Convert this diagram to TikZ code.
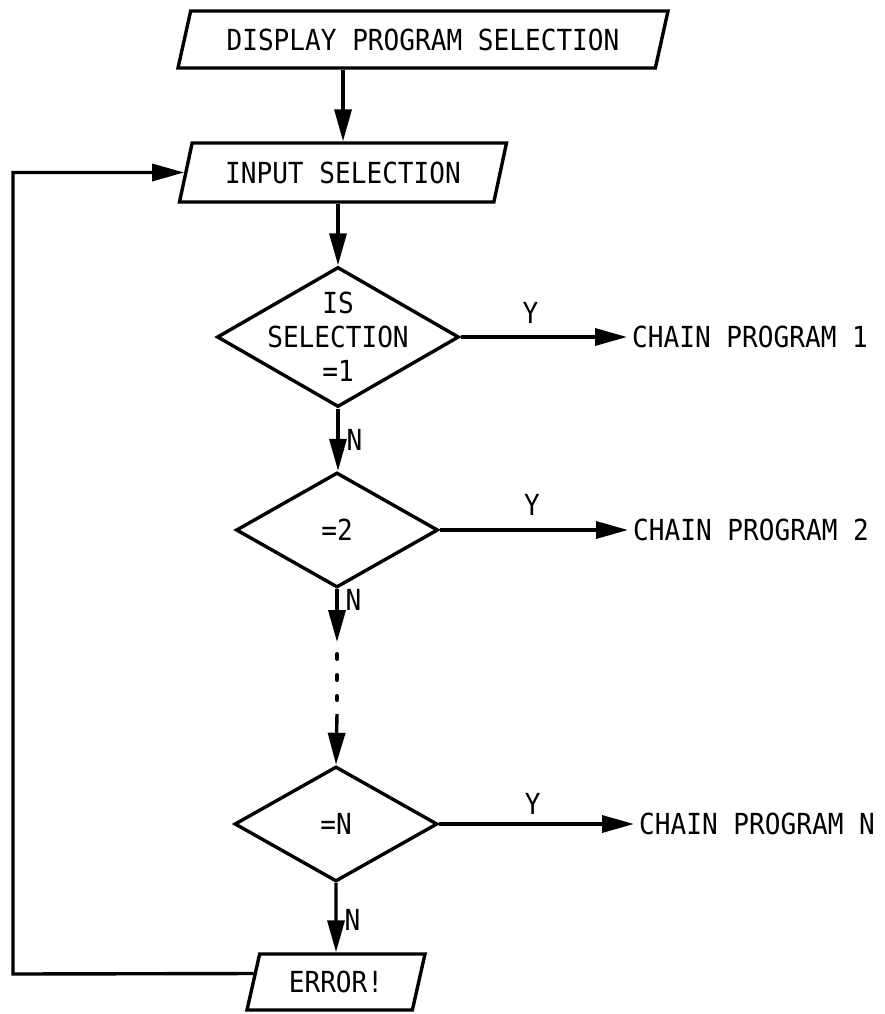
\documentclass[tikz,border=0pt]{standalone}
\usepackage{fontspec}
\newfontfamily\flowfont[FakeStretch=0.9]{DejaVu Sans Mono}
\usetikzlibrary{shapes.geometric,arrows.meta,calc}
\begin{document}
\begin{tikzpicture}[x=1pt,y=-1pt,
  font=\flowfont\fontsize{29}{34}\selectfont,
  stroke/.style={line width=3.4pt},
  iobox/.style={stroke, draw, trapezium, trapezium left angle=60, trapezium right angle=120,
                trapezium stretches body, inner sep=0pt},
  decision/.style={stroke, draw, diamond, inner sep=0pt},
  flow/.style={stroke, -{Triangle[length=32pt,width=17pt]}},
  tag/.style={inner sep=0pt},
  target/.style={anchor=west, inner sep=5pt},
  dots/.style={line width=4pt, line cap=round, dash pattern=on 5pt off 16pt},
]
\fill[white] (0,0) rectangle (885,1014);
\useasboundingbox (0,0) rectangle (885,1014);

% input / output boxes
\node[iobox, minimum width=490pt, minimum height=57pt] (disp) at (423,39.5) {DISPLAY PROGRAM SELECTION};
\node[iobox, minimum width=327pt, minimum height=59pt] (inp) at (343,172.5) {INPUT SELECTION};
\node[iobox, minimum width=178pt, minimum height=56pt] (err) at (336,982) {ERROR!};

% decisions
\node[decision, minimum width=242pt, minimum height=140pt,
      label={[align=center]center:IS\\SELECTION\\=1}] (d1) at (338,337) {};
\node[decision, minimum width=202pt, minimum height=115pt,
      label={center:=2}] (d2) at (337,530) {};
\node[decision, minimum width=203pt, minimum height=115pt,
      label={center:=N}] (dN) at (336,824) {};

% chained programs
\node[target] (c1) at (627,337) {CHAIN PROGRAM 1};
\node[target] (c2) at (628,530) {CHAIN PROGRAM 2};
\node[target] (cN) at (634,824) {CHAIN PROGRAM N};

% helper points on the elided part of the column
\coordinate (gap1) at (337,642);
\coordinate (dotA) at (337,654);
\coordinate (dotB) at (337,700);
\coordinate (gap2) at (337,714);
\coordinate (loopbot) at (13,974);
\coordinate (errout) at ($(err.bottom left corner)!0.643!(err.top left corner)$);

% main flow
\draw[flow] (disp.south -| inp.north) -- (inp.north);
\draw[flow] (inp.south -| d1.north) -- (d1.north);
\draw[flow] (d1.south) -- node[tag, right=7pt, pos=0.5] {N} (d1.south |- d2.north);
\draw[flow] (d2.south) -- node[tag, right=7pt, pos=0.2] {N} (gap1);
\draw[dots] (dotA) -- (dotB);
\draw[flow] (gap2) -- (dN.north);
\draw[flow] (dN.south) -- node[tag, right=7pt, pos=0.53] {N} (err.north);

% yes branches
\draw[flow] (d1.east) -- node[tag, above=12pt, pos=0.42] {Y} (c1.west);
\draw[flow] (d2.east) -- node[tag, above=13pt, pos=0.49] {Y} (c2.west);
\draw[flow] (dN.east) -- node[tag, above=8pt, pos=0.48] {Y} (cN.west);

% error loop back to input
\draw[flow] (errout) -- (loopbot) |- (inp.left side);
\end{tikzpicture}
\end{document}
